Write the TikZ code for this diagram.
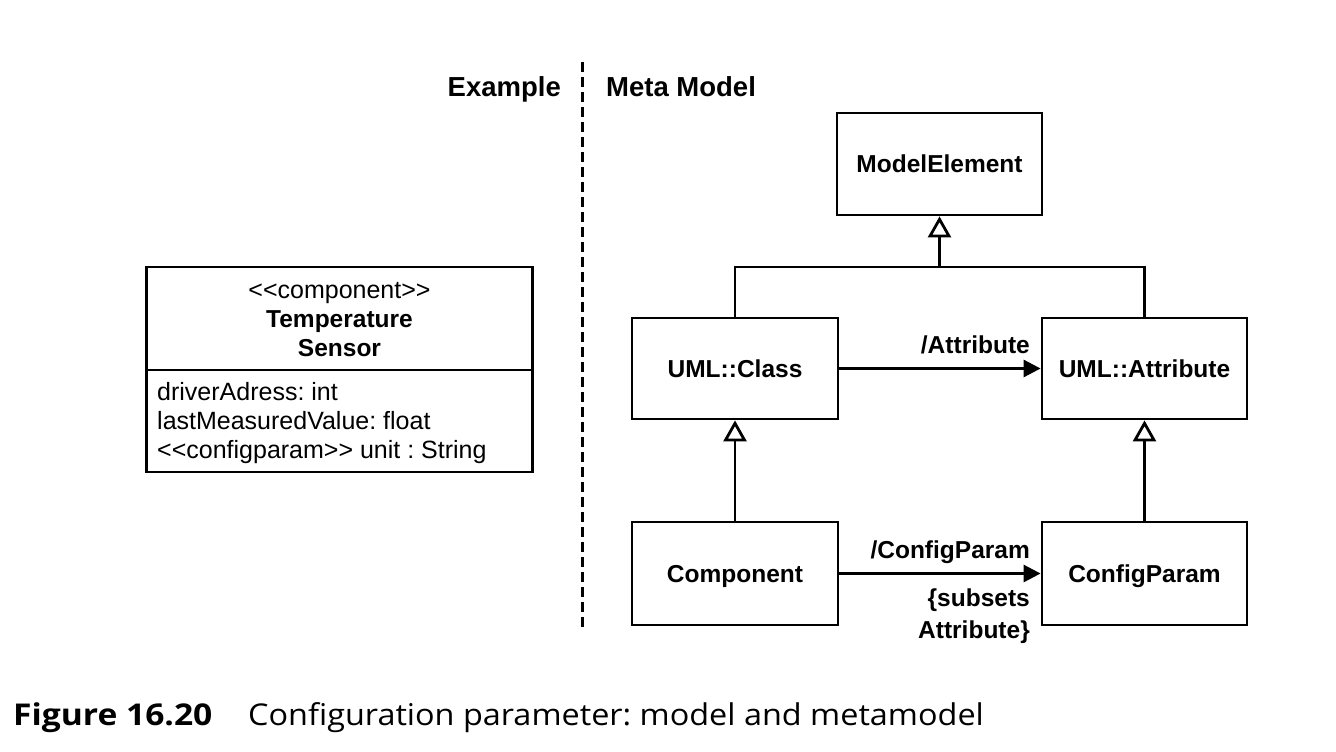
\documentclass[tikz,border=0pt]{standalone}
\usepackage{fontspec}
\setmainfont{Liberation Sans}
\newfontfamily\capfont[FakeStretch=1.08]{Open Sans}
\newfontfamily\capboldfont[FakeStretch=1.12]{Open Sans Bold}
\usetikzlibrary{arrows.meta}
\newcommand\dlt{<\kern0pt<}
\newcommand\dgt{>\kern0pt>}
\frenchspacing
\tikzset{
  x=1pt, y=-1pt,
  umlbox/.style={draw, line width=2.8pt, inner sep=0pt, minimum width=205pt, minimum height=102pt,
    font=\bfseries\fontsize{24.5}{29}\selectfont, text height=17.6pt, text depth=0pt, align=center},
  conn/.style={line width=2.8pt},
  assoc/.style={conn, -{Triangle[length=17pt, width=17pt]}},
  gen/.style={conn, -{Triangle[open, length=21pt, width=23pt, fill=white]}},
  lbl/.style={font=\bfseries\fontsize{24.5}{29}\selectfont, inner sep=0pt, anchor=base east},
  hdr/.style={font=\bfseries\fontsize{27.5}{31}\selectfont, inner sep=0pt},
  cls/.style={font=\fontsize{25}{29}\selectfont, inner sep=0pt},
  clsb/.style={font=\bfseries\fontsize{24.5}{29}\selectfont, inner sep=0pt, anchor=base},
}
\begin{document}
\begin{tikzpicture}
\useasboundingbox[fill=white] (0,0) rectangle (1336,752);

% separator
\coordinate (dtop) at (582,62);
\coordinate (dbot) at (582,628);
\draw[line width=3pt, dash pattern=on 10pt off 5pt] (dtop) -- (dbot);
\node[hdr, anchor=base east] (hex) at (561,96) {Example};
\node[hdr, anchor=base west] (hmm) at (606,96) {Meta Model};

% example class
\node[draw, line width=2.8pt, minimum width=386pt, minimum height=205pt, inner sep=0pt] (sensor) at (339.5,369.5) {};
\coordinate (divl) at (146,370);
\coordinate (divr) at (533,370);
\draw[line width=2.8pt] (divl) -- (divr);
\node[cls, anchor=base] (st) at (339.5,298) {\dlt component\dgt};
\node[clsb] (sn1) at (339.5,327.5) {Temperature};
\node[clsb] (sn2) at (339.5,356) {Sensor};
\node[cls, anchor=base west] (a1) at (157,400) {driverAdress: int};
\node[cls, anchor=base west] (a2) at (157,429) {lastMeasuredValue: float};
\node[cls, anchor=base west] (a3) at (157,458) {\dlt configparam\dgt{} unit : String};

% meta model
\node[umlbox] (me) at (939.5,164) {ModelElement};
\node[umlbox, minimum width=206pt, minimum height=101pt] (uc) at (735,368.5) {UML::Class};
\node[umlbox, minimum height=101pt] (ua) at (1144.5,368.5) {UML::Attribute};
\node[umlbox, minimum width=206pt, minimum height=103pt] (comp) at (735,573.5) {Component};
\node[umlbox, minimum height=103pt] (cp) at (1144.5,573.5) {ConfigParam};

\coordinate (j) at (939.5,267);
\draw[conn] (uc.north) |- (j) -| (ua.north);
\draw[gen] (j) -- (me.south);
\draw[gen] (comp.north) -- (uc.south);
\draw[gen] (cp.north) -- (ua.south);

\draw[assoc] (uc.east) -- (ua.west);
\node[lbl] (l1) at (1030,353) {/Attribute};
\draw[assoc] (comp.east) -- (cp.west);
\node[lbl] (l2) at (1030,558) {/ConfigParam};
\node[lbl] (l3) at (1030,606) {\{subsets};
\node[lbl] (l4) at (1030,638) {Attribute\}};

% caption
\node[inner sep=0pt, anchor=base west, font=\capboldfont\fontsize{30}{34}\selectfont] (cf) at (13,725) {Figure 16.20};
\node[inner sep=0pt, anchor=base west, font=\capfont\fontsize{30}{34}\selectfont] (ct) at (248,725) {Configuration parameter: model and metamodel};
\end{tikzpicture}
\end{document}
